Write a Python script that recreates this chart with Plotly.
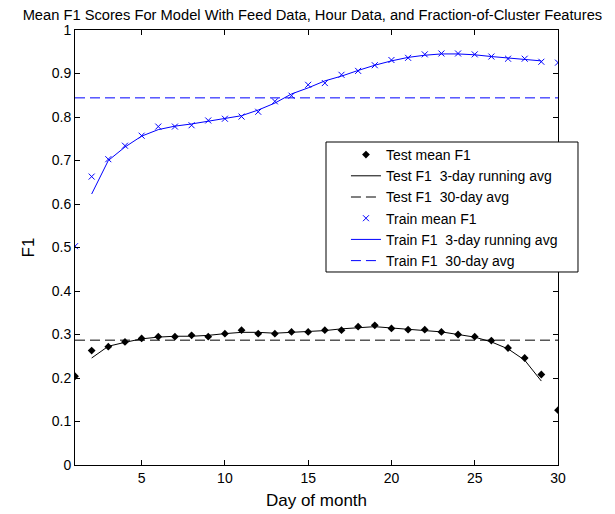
import plotly.graph_objects as go

days = list(range(1, 31))
run_days = list(range(2, 30))

test_mean = [0.204, 0.263, 0.272, 0.283, 0.291, 0.295, 0.295, 0.298, 0.295, 0.302,
             0.310, 0.302, 0.302, 0.306, 0.306, 0.310, 0.310, 0.318, 0.321, 0.314,
             0.311, 0.311, 0.306, 0.300, 0.295, 0.286, 0.269, 0.246, 0.208, 0.126]
test_run3 = [0.246, 0.273, 0.282, 0.290, 0.294, 0.296, 0.296, 0.298, 0.302, 0.305,
             0.305, 0.303, 0.305, 0.307, 0.309, 0.313, 0.316, 0.318, 0.315, 0.312,
             0.309, 0.306, 0.300, 0.294, 0.283, 0.267, 0.241, 0.193]
test_avg30 = 0.287

train_mean = [0.503, 0.663, 0.703, 0.734, 0.757, 0.778, 0.778, 0.781, 0.792, 0.796,
              0.801, 0.812, 0.836, 0.849, 0.874, 0.878, 0.897, 0.906, 0.919, 0.931,
              0.936, 0.944, 0.946, 0.946, 0.944, 0.939, 0.934, 0.934, 0.927, 0.925]
train_run3 = [0.623, 0.700, 0.731, 0.756, 0.771, 0.779, 0.784, 0.790, 0.796, 0.803,
              0.816, 0.832, 0.853, 0.867, 0.883, 0.894, 0.907, 0.919, 0.929, 0.937,
              0.942, 0.945, 0.945, 0.943, 0.939, 0.936, 0.932, 0.929]
train_avg30 = 0.844

x_ticks = [5, 10, 15, 20, 25, 30]
y_ticks = [0, 0.1, 0.2, 0.3, 0.4, 0.5, 0.6, 0.7, 0.8, 0.9, 1]
y_tick_text = ["0", "0.1", "0.2", "0.3", "0.4", "0.5", "0.6", "0.7", "0.8", "0.9", "1"]

FONT = "Liberation Sans, Arial, sans-serif"
BLUE = "#0000ff"
DASH = "10px,5px"

span = [days[0], days[-1]]

fig = go.Figure()
fig.add_trace(go.Scatter(x=days, y=test_mean, mode="markers", name="Test mean F1",
                         marker=dict(symbol="diamond", size=6, color="black")))
fig.add_trace(go.Scatter(x=run_days, y=test_run3, mode="lines", name="Test F1  3-day running avg",
                         line=dict(color="black", width=1)))
fig.add_trace(go.Scatter(x=span, y=[test_avg30, test_avg30], mode="lines", name="Test F1  30-day avg",
                         line=dict(color="black", width=1, dash=DASH)))
fig.add_trace(go.Scatter(x=days, y=train_mean, mode="markers", name="Train mean F1",
                         marker=dict(symbol="x-thin-open", size=6, color=BLUE,
                                     line=dict(color=BLUE, width=1))))
fig.add_trace(go.Scatter(x=run_days, y=train_run3, mode="lines", name="Train F1  3-day running avg",
                         line=dict(color=BLUE, width=1)))
fig.add_trace(go.Scatter(x=span, y=[train_avg30, train_avg30], mode="lines", name="Train F1  30-day avg",
                         line=dict(color=BLUE, width=1, dash=DASH)))

# legend frame (white box with black border, extends past the right axis like the original)
fig.add_shape(type="rect", xref="paper", yref="paper",
              x0=0.5197, x1=1.0414, y0=0.4437, y1=0.7425,
              line=dict(color="black", width=1), fillcolor="white", layer="above")

fig.update_layout(
    width=615, height=514,
    margin=dict(l=67, r=65, t=22, b=57),
    paper_bgcolor="white", plot_bgcolor="white",
    font=dict(family=FONT, size=14, color="black"),
    title=dict(text="Mean F1 Scores For Model With Feed Data, Hour Data, and Fraction-of-Cluster Features",
               x=0.495, xanchor="center", y=0.986, yanchor="middle",
               font=dict(family=FONT, size=14.7, color="black")),
    showlegend=True,
    legend=dict(x=0.561, y=0.7494, xanchor="left", yanchor="top",
                bgcolor="rgba(0,0,0,0)", borderwidth=0,
                font=dict(family=FONT, size=14, color="black"),
                tracegroupgap=0),
    xaxis=dict(range=[1, 30], tickvals=x_ticks, ticks="inside", ticklen=5,
               showline=True, linecolor="black", linewidth=1, mirror="ticks",
               showgrid=False, zeroline=False, tickcolor="black", automargin=False,
               title=dict(text="Day of month", standoff=9),
               tickfont=dict(size=14)),
    yaxis=dict(range=[0, 1], tickvals=y_ticks, ticktext=y_tick_text, ticks="inside", ticklen=5,
               showline=True, linecolor="black", linewidth=1, mirror="ticks",
               showgrid=False, zeroline=False, tickcolor="black", automargin=False,
               title=dict(text="F1", standoff=12),
               tickfont=dict(size=14)),
)

fig.write_html("out.html")
